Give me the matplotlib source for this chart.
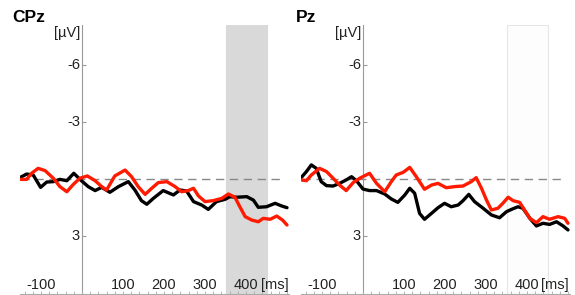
import matplotlib
matplotlib.use("Agg")
import matplotlib.pyplot as plt
import matplotlib.transforms as mtransforms
from matplotlib.patches import Rectangle

plt.rcParams['font.family'] = ['Liberation Sans', 'DejaVu Sans']

# ---- data (time in ms, amplitude in µV; negative plotted upward) ----
cpz_black_t = [-150, -135, -119, -101, -86, -70, -54, -37, -20, -5, 15, 32, 48, 68, 89, 113, 129, 145, 158, 174,
               198, 223, 239, 255, 272, 292, 308, 328, 349, 361, 377, 402, 418, 430, 450, 471, 487, 500]
cpz_black_v = [-0.09, -0.26, -0.21, 0.44, 0.16, 0.14, 0.02, 0.09, -0.30, 0.02, 0.40, 0.61, 0.44, 0.70, 0.40, 0.14,
               0.58, 1.14, 1.33, 1.02, 0.61, 0.84, 0.58, 0.63, 1.19, 1.37, 1.60, 1.19, 1.07, 0.93, 0.96, 0.93,
               1.11, 1.49, 1.46, 1.28, 1.42, 1.51]
cpz_red_t = [-150, -135, -123, -107, -90, -70, -54, -37, -21, -5, 13, 32, 48, 60, 80, 105, 121, 137, 154, 170,
             186, 207, 227, 243, 259, 272, 284, 300, 320, 341, 357, 373, 385, 398, 414, 430, 442, 459, 475, 489, 500]
cpz_red_v = [0.02, 0.02, -0.30, -0.56, -0.44, -0.04, 0.40, 0.67, 0.28, -0.04, -0.16, 0.09, 0.40, 0.58, -0.16,
             -0.47, -0.12, 0.40, 0.81, 0.49, 0.19, 0.14, 0.40, 0.67, 0.61, 0.49, 0.89, 1.19, 1.14, 1.02, 0.79,
             0.96, 1.46, 1.98, 2.16, 2.25, 2.07, 2.12, 1.95, 2.16, 2.42]

pz_black_t = [-150, -138, -126, -114, -102, -89, -73, -57, -41, -28, -16, 0, 16, 33, 53, 69, 85, 102, 114, 126,
              138, 150, 167, 183, 199, 215, 232, 244, 258, 272, 293, 313, 333, 350, 362, 378, 390, 407, 423,
              439, 455, 472, 488, 500]
pz_black_v = [-0.09, -0.39, -0.74, -0.56, 0.14, 0.35, 0.37, 0.23, 0.05, -0.12, 0.09, 0.53, 0.61, 0.61, 0.79,
              1.05, 1.23, 0.84, 0.49, 0.75, 1.81, 2.12, 1.81, 1.51, 1.28, 1.46, 1.37, 1.14, 0.81, 1.19, 1.54,
              1.89, 2.04, 1.72, 1.60, 1.46, 1.54, 2.07, 2.47, 2.33, 2.39, 2.25, 2.47, 2.68]
pz_red_t = [-150, -138, -126, -106, -89, -73, -57, -41, -24, -8, 16, 33, 53, 69, 81, 98, 114, 130, 150, 167,
            183, 203, 224, 244, 264, 276, 289, 301, 313, 329, 341, 354, 366, 382, 394, 407, 423, 439, 455,
            476, 492, 500]
pz_red_v = [0.05, 0.09, -0.21, -0.56, -0.39, -0.04, 0.32, 0.61, 0.19, -0.04, -0.30, 0.23, 0.67, 0.14, -0.21,
            -0.35, -0.61, -0.12, 0.54, 0.32, 0.23, 0.46, 0.40, 0.37, 0.14, -0.07, 0.49, 1.10, 1.63, 1.54,
            1.28, 0.96, 1.14, 1.23, 1.63, 2.07, 2.30, 1.98, 2.12, 1.98, 2.07, 2.33]

x_tick_labels = [-100, 100, 200, 300, 400]
y_tick_labels = [-6, -3, 3]
window = (350, 450)
titles = ["CPz", "Pz"]

W, H = 575, 295
fig = plt.figure(figsize=(W / 100, H / 100), dpi=100)

XMIN, XMAX = -152, 505
YTOP, YBOT = -8.1, 6.05
px_per_ms = 0.41

def make_axes(axis_px, title, tx, black_t, black_v, red_t, red_v, shade_face, shade_edge, ms_x):
    left = axis_px + XMIN * px_per_ms
    width = (XMAX - XMIN) * px_per_ms
    ax = fig.add_axes([left / W, 1 / H, width / W, 269 / H])
    ax.set_xlim(XMIN, XMAX)
    ax.set_ylim(YBOT, YTOP)
    ax.patch.set_alpha(0)
    for s in ['top', 'right']:
        ax.spines[s].set_visible(False)
    ax.spines['left'].set_position(('data', 0))
    ax.spines['left'].set_color('#999999')
    ax.spines['bottom'].set_color('#aaaaaa')
    ax.spines['left'].set_zorder(1)

    ax.add_patch(Rectangle((window[0], YBOT), window[1] - window[0], YTOP - YBOT,
                           facecolor=shade_face, edgecolor=shade_edge, lw=0.8, zorder=0))
    ax.plot([-150, 482], [0, 0], color='#888888', lw=1.0, dashes=(6, 4), zorder=1)

    ax.plot(black_t, black_v, color='black', lw=2.4, zorder=3,
            solid_joinstyle='round', solid_capstyle='round')
    ax.plot(red_t, red_v, color='#ff1a00', lw=2.4, zorder=4,
            solid_joinstyle='round', solid_capstyle='round')

    ax.set_xticks(range(-140, 501, 20), minor=True)
    ax.set_xticks([])
    ax.tick_params(axis='x', which='minor', direction='in', length=2, color='#aaaaaa')
    ax.set_yticks(y_tick_labels)
    ax.set_yticklabels([])
    ax.tick_params(axis='y', direction='in', length=3, color='#999999')

    trans_x = mtransforms.blended_transform_factory(ax.transData, ax.transAxes)
    for v in x_tick_labels:
        ax.text(v, 9 / 269, str(v), transform=trans_x, ha='center', va='center', fontsize=10.5, color='#222222')
    ax.text(ms_x, 9 / 269, "[ms]", transform=trans_x, ha='left', va='center', fontsize=10.5, color='#222222')
    for v in y_tick_labels:
        ax.text(-5, v, str(v), ha='right', va='center', fontsize=10.5, color='#222222')
    ax.text(-5, -7.7, "[µV]", ha='right', va='center', fontsize=10.5, color='#222222')

    fig.text(tx / W, 1 - 17 / H, title, fontsize=12.5, fontweight='bold', ha='left', va='center')
    return ax

make_axes(82, titles[0], 12, cpz_black_t, cpz_black_v, cpz_red_t, cpz_red_v, '#d9d9d9', '#d9d9d9', 437)
make_axes(363, titles[1], 296, pz_black_t, pz_black_v, pz_red_t, pz_red_v, '#fdfdfd', '#e6e6e6', 434)

fig.savefig("out.png", dpi=100)
